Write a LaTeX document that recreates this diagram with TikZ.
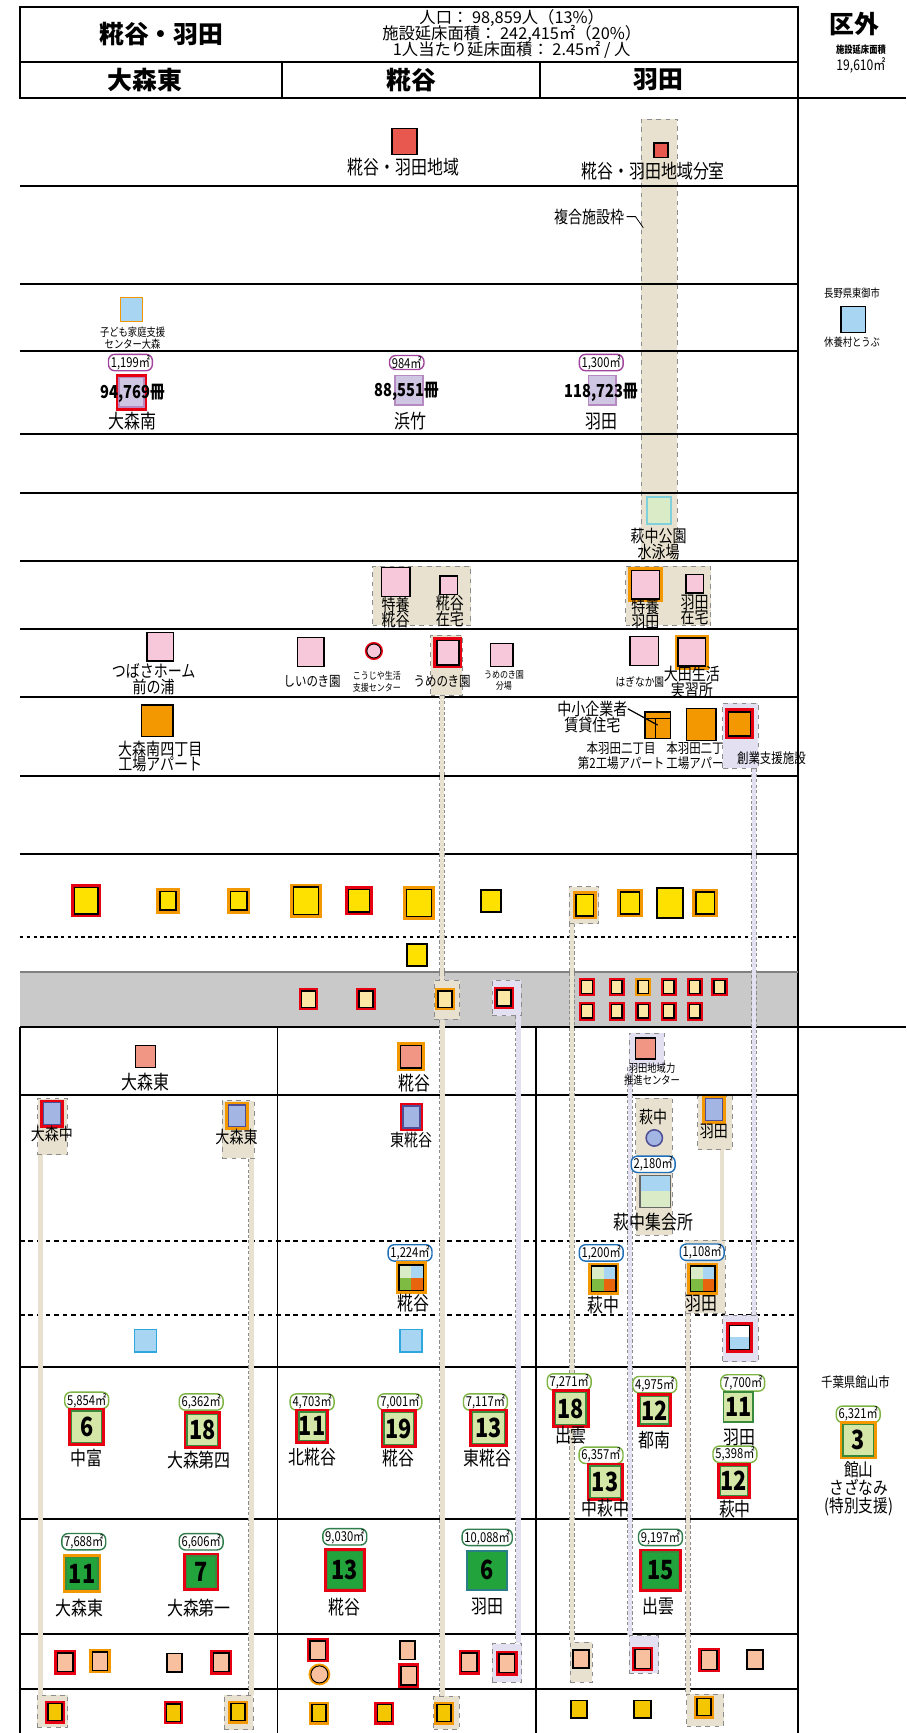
\documentclass[tikz,border=0pt]{standalone}
\usepackage{fontspec}
\setmainfont{Noto Sans CJK JP}[FakeStretch=0.82]
\newfontfamily\headfam{Noto Sans CJK JP}
\usepackage{xcolor}
\usetikzlibrary{positioning}

\definecolor{ringred}{HTML}{E60012}
\definecolor{ringor}{HTML}{F39800}
\definecolor{hqred}{HTML}{E9584E}
\definecolor{ctrsal}{HTML}{F19584}
\definecolor{salmon}{HTML}{F9C0A0}
\definecolor{libpur}{HTML}{CFC6E3}
\definecolor{libedge}{HTML}{B68AC0}
\definecolor{tagpur}{HTML}{A0449E}
\definecolor{careink}{HTML}{F7C8D9}
\definecolor{factor}{HTML}{F39800}
\definecolor{pubyel}{HTML}{FFE100}
\definecolor{paleyel}{HTML}{FCE7A5}
\definecolor{gold}{HTML}{F4C600}
\definecolor{skyfill}{HTML}{A7D5F2}
\definecolor{skyedge}{HTML}{2EA7E0}
\definecolor{youthblue}{HTML}{A3B5E2}
\definecolor{youthedge}{HTML}{4E4E96}
\definecolor{poolgrn}{HTML}{DAEBC8}
\definecolor{pooledge}{HTML}{7FD0DA}
\definecolor{mixgreen}{HTML}{7DBB42}
\definecolor{mixorange}{HTML}{E8650E}
\definecolor{schlt}{HTML}{D5E7A6}
\definecolor{schdk}{HTML}{22A33B}
\definecolor{schedge}{HTML}{3A8A3E}
\definecolor{jredge}{HTML}{2A7F86}
\definecolor{tagelem}{HTML}{7DB444}
\definecolor{tagjr}{HTML}{2F7D4B}
\definecolor{tagblue}{HTML}{1E6FB7}
\definecolor{tanfill}{HTML}{E8E1CF}
\definecolor{lavfill}{HTML}{E3E1F1}
\definecolor{bandgray}{HTML}{C9C9C9}

\pgfdeclarelayer{back}
\pgfdeclarelayer{links}
\pgfsetlayers{back,links,main}

\newcommand\hdfont{\headfam\bfseries\fontsize{16}{18}\selectfont}
\newcommand\statfont{\headfam\fontsize{10.5}{10.3}\selectfont}
\newcommand\bigfont{\fontsize{12.5}{11.5}\selectfont}
\newcommand\labfont{\fontsize{11}{10}\selectfont}
\newcommand\midfont{\fontsize{9}{9.5}\selectfont}
\newcommand\smfont{\fontsize{7.3}{8}\selectfont}
\newcommand\tagfont{\fontsize{8.8}{8.8}\selectfont}
\newcommand\numfont{\bfseries\fontsize{17}{17}\selectfont}
\newcommand\volfont{\bfseries\fontsize{11.5}{11.5}\selectfont}

\tikzset{
  fac/.style={draw=black, line width=0.9pt, inner sep=0pt},
  sq/.style 2 args={minimum width=#1pt, minimum height=#2pt},
  redring/.style={preaction={draw=ringred, line width=#1}},
  redring/.default=4.4pt,
  orring/.style={preaction={draw=ringor, line width=#1}},
  orring/.default=4.4pt,
  ring/.style 2 args={preaction={draw=#1, line width=#2}},
  lbl/.style={font=\labfont, align=center, inner sep=0pt},
  small/.style={font=\smfont, align=center, inner sep=0pt},
  tag/.style={draw=#1, fill=white, line width=0.9pt, rounded corners=4pt,
    inner xsep=1.5pt, inner ysep=0.6pt, font=\tagfont},
  tanbox/.style={draw=black!45, dashed, fill=tanfill, line width=0.5pt, inner sep=0pt},
  lavbox/.style={draw=black!45, dashed, fill=lavfill, line width=0.5pt, inner sep=0pt},
  tanlink/.style={preaction={draw=black!45, line width=3.8pt, dash pattern=on 2pt off 1.5pt},
    draw=tanfill, line width=2.8pt},
  lavlink/.style={preaction={draw=black!45, line width=3.8pt, dash pattern=on 2pt off 1.5pt},
    draw=lavfill, line width=2.8pt},
  school/.style={fac, fill=schlt, draw=schedge, line width=0.8pt, font=\numfont},
  grid/.style={line width=1.3pt},
  mix/.style={path picture={
    \fill[poolgrn] (path picture bounding box.north west) rectangle (path picture bounding box.center);
    \fill[skyfill] (path picture bounding box.north east) rectangle (path picture bounding box.center);
    \fill[mixgreen] (path picture bounding box.south west) rectangle (path picture bounding box.center);
    \fill[mixorange] (path picture bounding box.south east) rectangle (path picture bounding box.center);}},
  halfsky/.style={path picture={
    \fill[skyfill] (path picture bounding box.north west) rectangle (path picture bounding box.east);
    \fill[poolgrn] (path picture bounding box.west) rectangle (path picture bounding box.south east);}},
  halfwhite/.style={path picture={
    \fill[white] (path picture bounding box.north west) rectangle (path picture bounding box.east);
    \fill[skyfill] (path picture bounding box.west) rectangle (path picture bounding box.south east);}},
  split/.style={path picture={
    \draw[line width=0.7pt] ([yshift=-4pt]path picture bounding box.north west) -- ([yshift=-4pt]path picture bounding box.north east);
    \draw[line width=0.7pt] ([xshift=-1.5pt,yshift=-4pt]path picture bounding box.north) -- ([xshift=-1.5pt]path picture bounding box.south);}},
}

\begin{document}
\lineskiplimit=-20pt
\lineskip=0pt
\begin{tikzpicture}[x=0.025cm, y=-0.025cm]
\useasboundingbox (0,0) rectangle (820,1568);

\begin{pgfonlayer}{back}
% Grid
\fill[bandgray] (18,879) rectangle (722,929);
\node[tanbox, sq={23.4}{284}] (cplx) at (596.5,307.5) {};
\draw[grid] (18,6) rectangle (722,89);
\draw[grid] (18,56) -- (722,56);
\draw[grid] (255,56) -- (255,89);
\draw[grid] (489,56) -- (489,89);
\draw[grid] (722,6) -- (722,1568);
\draw[grid] (722,89) -- (820,89);
\foreach \yy in {168,257,318,393,446,508,569,631,702,773}
  \draw[grid] (18,\yy) -- (722,\yy);
\draw[grid, dash pattern=on 2.2pt off 2.2pt] (18,848) -- (722,848);
\draw[grid, black!50] (18,879) -- (722,879);
\draw[line width=1pt] (18,929) -- (820,929);
\draw[line width=0.8pt] (18,929) -- (18,1568);
\draw[line width=0.8pt] (251,929) -- (251,1568);
\draw[line width=0.8pt] (485,929) -- (485,1568);
\foreach \yy in {991,1237,1374,1478,1528}
  \draw[grid] (18,\yy) -- (722,\yy);
\foreach \yy in {1123,1190}
  \draw[line width=1pt, dash pattern=on 3pt off 2.5pt] (18,\yy) -- (722,\yy);
\end{pgfonlayer}

% Header
\node[font=\hdfont] (areattl) at (146,31) {糀谷・羽田};
\node[font=\statfont, align=center, inner sep=0pt] (areastat) at (463,31)
  {人口： 98,859人（13\%）\\施設延床面積： 242,415㎡（20\%）\\1人当たり延床面積： 2.45㎡ / 人};
\node[font=\hdfont] (colomn) at (131,72) {大森東};
\node[font=\hdfont] (colkoj) at (372,72) {糀谷};
\node[font=\hdfont] (colhnd) at (596,72) {羽田};
\node[font=\hdfont] (outttl) at (773,22) {区外};
\node[font=\bfseries\fontsize{6.5}{7}\selectfont, inner sep=0pt] (outsub) at (779,45) {施設延床面積};
\node[font=\fontsize{9.5}{10}\selectfont, inner sep=0pt] (outarea) at (779,59) {19,610㎡};

% Row A
\node[fac, sq={16.3}{17}, fill=hqred] (hq) at (366,128) {};
\node[lbl, font=\bigfont] (hqlbl) at (365,151) {糀谷・羽田地域};
\node[fac, sq={8.9}{9.6}, fill=hqred] (hqsub) at (598,136) {};
\node[lbl, font=\bigfont] (hqsublbl) at (591,155) {糀谷・羽田地域分室};
\node[lbl] (cplxtag) at (533,196) {複合施設枠};
\draw[line width=0.5pt] (cplxtag.east) ++(2,0) -- ++(8,0) -- ++(7,10);

% Row C
\node[fac, sq={14.2}{15.6}, fill=skyfill, draw=ringor] (kidsup) at (119,280) {};
\node[small] (kidsuplbl) at (120,306) {子ども家庭支援\\センター大森};
\node[small] (nagano) at (771,265) {長野県東御市};
\node[fac, sq={15.6}{17}, fill=skyfill] (tobu) at (772,289) {};
\node[small] (tobulbl) at (771,310) {休養村とうぶ};

% Row D
\node[tag=tagpur] (omslibtag) at (118,328) {1,199㎡};
\node[fac, sq={16}{19}, fill=libpur, draw=libedge, redring] (omslib) at (119,355) {};
\node[font=\volfont, inner sep=0pt] (omslibvol) at (120,356) {94,769冊};
\node[lbl, font=\bigfont] (omsliblbl) at (120,381) {大森南};
\node[tag=tagpur] (hmtlibtag) at (368,328) {984㎡};
\node[fac, sq={17.7}{19}, fill=libpur, draw=libedge, line width=1.1pt] (hmtlib) at (370,353) {};
\node[font=\volfont, inner sep=0pt] (hmtlibvol) at (368,354) {88,551冊};
\node[lbl, font=\bigfont] (hmtliblbl) at (371,381) {浜竹};
\node[tag=tagpur] (hndlibtag) at (544,328) {1,300㎡};
\node[fac, sq={17.7}{19}, fill=libpur, draw=libedge, line width=1.1pt] (hndlib) at (545,353) {};
\node[font=\volfont, inner sep=0pt] (hndlibvol) at (544,355) {118,723冊};
\node[lbl, font=\bigfont] (hndliblbl) at (544,381) {羽田};

% Row F
\node[fac, sq={15.6}{17}, fill=poolgrn, draw=pooledge, line width=1.3pt] (pool) at (596,462) {};
\node[lbl] (poollbl) at (596,492) {萩中公園\\水泳場};

% Row G
\node[tanbox, sq={63}{38}] (kojcare) at (381.5,539) {};
\node[fac, sq={18.4}{18.8}, fill=careink] (kojtk) at (358,526.5) {};
\node[lbl] (kojtklbl) at (358,554) {特養\\糀谷};
\node[fac, sq={11.3}{12}, fill=careink] (kojhm) at (406,529.5) {};
\node[lbl] (kojhmlbl) at (407,553) {糀谷\\在宅};
\node[tanbox, sq={54.6}{38}] (hndcare) at (604.5,539) {};
\node[fac, sq={17.7}{18.4}, fill=careink, orring] (hndtk) at (584,529) {};
\node[lbl] (hndtklbl) at (584,556) {特養\\羽田};
\node[fac, sq={11.3}{12}, fill=careink] (hndhm) at (628.5,528) {};
\node[lbl] (hndhmlbl) at (628.5,552) {羽田\\在宅};

% Row H
\node[fac, sq={17}{18.4}, fill=careink] (tsb) at (145,585) {};
\node[lbl] (tsblbl) at (139,614.5) {つばさホーム\\前の浦};
\node[fac, sq={17}{18.8}, fill=careink] (shi) at (281.3,590) {};
\node[lbl, font=\midfont] (shilbl) at (282.4,617) {しいのき園};
\node[circle, draw=black, line width=0.6pt, fill=careink, minimum size=9pt, inner sep=0pt, redring=2.6pt] (kjy) at (338.3,589) {};
\node[small, font=\fontsize{6.3}{7.3}\selectfont] (kjylbl) at (341,617) {こうじや生活\\支援センター};
\node[tanbox, sq={20.4}{38.5}] (umebox) at (404,602) {};
\node[fac, sq={14.2}{15.6}, fill=careink, redring] (ume) at (405.2,590.6) {};
\node[lbl, font=\midfont] (umelbl) at (400,617) {うめのき園};
\node[fac, sq={14.2}{14.9}, fill=careink] (umeb) at (454,592.7) {};
\node[small, font=\fontsize{6.3}{7.3}\selectfont] (umeblbl) at (456,616) {うめのき園\\分場};
\node[fac, sq={18.4}{18.6}, fill=careink] (hgi) at (583,589) {};
\node[small, font=\fontsize{7.6}{8}\selectfont] (hgilbl) at (579,617) {はぎなか園};
\node[fac, sq={17.7}{18.1}, fill=careink, orring] (otl) at (626,590) {};
\node[lbl] (otllbl) at (626,617) {大田生活\\実習所};

% Row I
\node[fac, sq={20.4}{20.3}, fill=factor] (omsf) at (142.2,652.2) {};
\node[lbl] (omsflbl) at (145,684.5) {大森南四丁目\\工場アパート};
\node[lbl] (smelbl) at (536,648.7) {中小企業者\\賃貸住宅};
\node[fac, sq={16.3}{17}, fill=factor, split] (sme) at (595,656) {};
\draw[line width=0.8pt] ([yshift=-5pt]smelbl.north east) -- (sme.center);
\node[fac, sq={19}{20.6}, fill=factor] (mhf) at (634.5,655.5) {};
\node[lbl, font=\midfont] (mhf2lbl) at (562,684) {本羽田二丁目\\第2工場アパート};
\node[lbl, font=\midfont] (mhflbl) at (634,684) {本羽田二丁目\\工場アパート};
\node[lavbox, sq={22.7}{41.8}] (sougyo) at (670,665.5) {};
\node[fac, sq={14.2}{15.6}, fill=factor, redring] (sgy) at (669,655) {};
\node[lbl, font=\midfont] (sgylbl) at (698,686) {創業支援施設};

% Row K
\node[fac, sq={15}{17}, fill=pubyel, redring] (pub1) at (78,815) {};
\node[fac, sq={10.5}{12}, fill=pubyel, orring] (pub2) at (152,815) {};
\node[fac, sq={10.5}{12}, fill=pubyel, orring] (pub3) at (216,815) {};
\node[fac, sq={16}{17.5}, fill=pubyel, orring] (pub4) at (277,815) {};
\node[fac, sq={13.5}{14.5}, fill=pubyel, redring] (pub5) at (325,815) {};
\node[fac, sq={16}{17.5}, fill=pubyel, orring] (pub6) at (379,817) {};
\node[fac, sq={13}{14}, fill=pubyel, line width=1.3pt] (pub7) at (444,815) {};
\node[tanbox, sq={19}{24}] (pubtan) at (528.5,819) {};
\node[fac, sq={11}{14}, fill=pubyel, orring] (pub8) at (529,819) {};
\node[fac, sq={12}{14}, fill=pubyel, orring] (pub9) at (570,817) {};
\node[fac, sq={17}{19}, fill=pubyel, line width=1.3pt] (pub10) at (606,817) {};
\node[fac, sq={12}{14}, fill=pubyel, orring] (pub11) at (638,817) {};
\node[fac, sq={13}{14.5}, fill=pubyel, line width=1.3pt] (pub12) at (377.5,864) {};

% Gray band
\node[fac, sq={9}{10.5}, fill=paleyel, redring=3.6pt] (gb1) at (279,904) {};
\node[fac, sq={9}{10.5}, fill=paleyel, redring=3.6pt] (gb2) at (331,904) {};
\node[tanbox, sq={16.3}{25}] (bandume) at (404.5,904.5) {};
\node[fac, sq={9}{10.5}, fill=paleyel, orring=3.6pt] (gb3) at (402.6,904) {};
\node[lavbox, sq={18.4}{22.7}] (bandlav) at (458.5,903) {};
\node[fac, sq={9}{10.5}, fill=paleyel, redring=3.6pt] (gb4) at (456,903) {};
\foreach \xx/\rc [count=\i] in {531/ringred,558/ringred,582/ringor,605/ringred,628.5/ringred,651/ringred}
  \node[fac, sq={7}{8.5}, fill=paleyel, ring={\rc}{3.4pt}] (gt\i) at (\xx,893) {};
\foreach \xx [count=\i] in {531,558,582,605,628.5}
  \node[fac, sq={7}{8.5}, fill=paleyel, redring=3.4pt] (gu\i) at (\xx,915) {};

% Row M
\node[fac, sq={12.8}{14.2}, fill=ctrsal] (omectr) at (131.8,956) {};
\node[lbl, font=\bigfont] (omectrlbl) at (131.8,979) {大森東};
\node[fac, sq={13.5}{14.5}, fill=ctrsal, orring] (kojctr) at (372,956) {};
\node[lbl, font=\bigfont] (kojctrlbl) at (375,980) {糀谷};
\node[lavbox, sq={22.7}{22}] (hndctr) at (585,950) {};
\node[fac, sq={12.8}{13.5}, fill=ctrsal] (hndc) at (584,948.7) {};
\node[small] (hndclbl) at (590,972) {羽田地域力\\推進センター};

% Row N
\node[tanbox, sq={19}{36}] (omnbox) at (47.5,1019.5) {};
\node[fac, sq={11}{14}, fill=youthblue, draw=youthedge, redring=4pt] (omn) at (47,1007.5) {};
\node[lbl] (omnlbl) at (47,1026) {大森中};
\node[tanbox, sq={20.5}{37}] (ohebox) at (215.5,1022) {};
\node[fac, sq={11}{14}, fill=youthblue, draw=youthedge, orring=4pt] (ohe) at (214.4,1009.6) {};
\node[lbl] (ohelbl) at (214,1028.6) {大森東};
\node[fac, sq={11}{14}, fill=youthblue, draw=youthedge, redring=4pt] (hkj) at (372.3,1010.6) {};
\node[lbl] (hkjlbl) at (372,1031.7) {東糀谷};
\node[tanbox, sq={23.4}{88}] (hgnbox) at (591.5,1055.5) {};
\node[lbl] (hgnlbl) at (591,1010.6) {萩中};
\node[circle, draw=youthedge, line width=1pt, fill=youthblue, minimum size=10.5pt, inner sep=0pt] (hgn) at (592,1029.6) {};
\node[tag=tagblue] (hgnhalltag) at (591,1053.4) {2,180㎡};
\node[fac, sq={19.5}{20.5}, draw=black!60, halfsky] (hgnhall) at (592.7,1078) {};
\node[lbl, font=\bigfont] (hgnhalllbl) at (591,1105.5) {萩中集会所};
\node[tanbox, sq={22.3}{34.5}] (hndyth) at (647,1016) {};
\node[fac, sq={11}{14}, fill=youthblue, draw=youthedge, orring=4pt] (hny) at (646,1004) {};
\node[lbl] (hnylbl) at (646,1024) {羽田};

% Row O
\node[tanbox, sq={25.9}{46.8}] (hndyhbox) at (638,1155) {};
\node[tag=tagblue] (kojyhtag) at (371,1133.6) {1,224㎡};
\node[fac, sq={15.6}{16.5}, mix, orring] (kojyh) at (372,1156) {};
\node[lbl, font=\bigfont] (kojyhlbl) at (374,1179) {糀谷};
\node[tag=tagblue] (hgnyhtag) at (544,1133.6) {1,200㎡};
\node[fac, sq={15.6}{16.5}, mix, orring] (hgnyh) at (546.4,1157) {};
\node[lbl, font=\bigfont] (hgnyhlbl) at (546.4,1181) {萩中};
\node[tag=tagblue] (hndyhtag) at (635.3,1133) {1,108㎡};
\node[fac, sq={15.6}{16.5}, mix, orring] (hndyh) at (635.8,1157) {};
\node[lbl, font=\bigfont] (hndyhlbl) at (635,1179) {羽田};

% Row P
\node[fac, sq={14}{14.5}, fill=skyfill, draw=skyedge] (omeplay) at (131.8,1213) {};
\node[fac, sq={14}{14.5}, fill=skyfill, draw=skyedge] (kojplay) at (371.8,1213) {};
\node[lavbox, sq={22.7}{30}] (hndpbox) at (670,1211) {};
\node[fac, sq={12.8}{15.6}, halfwhite, redring] (hndplay) at (669,1210) {};

% Row Q
\node[tag=tagelem] (nktag) at (78.4,1267) {5,854㎡};
\node[school, redring, sq={19.5}{20.5}] (nk) at (78.4,1291) {6};
\node[lbl, font=\bigfont] (nklbl) at (78.4,1319.5) {中富};
\node[tag=tagelem] (o4tag) at (182,1268.5) {6,362㎡};
\node[school, redring, sq={19.5}{20}] (o4) at (183,1294) {18};
\node[lbl, font=\bigfont] (o4lbl) at (180,1321.3) {大森第四};
\node[tag=tagelem] (nkjtag) at (282.4,1268.5) {4,703㎡};
\node[school, redring, sq={17}{18.5}] (nkj) at (282.4,1290.5) {11};
\node[lbl, font=\bigfont] (nkjlbl) at (282.4,1318.3) {北糀谷};
\node[tag=tagelem] (kjetag) at (361.8,1268.5) {7,001㎡};
\node[school, redring, sq={19}{20.5}] (kje) at (360.8,1292.6) {19};
\node[lbl, font=\bigfont] (kjelbl) at (360.8,1319.7) {糀谷};
\node[tag=tagelem] (hkjetag) at (439.2,1268.5) {7,117㎡};
\node[school, redring, sq={20.5}{20}] (hkje) at (441.8,1291.7) {13};
\node[lbl, font=\bigfont] (hkjelbl) at (440.8,1319.7) {東糀谷};
\node[tag=tagelem] (izetag) at (515,1250.4) {7,271㎡};
\node[school, redring, sq={19.5}{20.5}] (ize) at (516.6,1274.5) {18};
\node[lbl, font=\bigfont] (izelbl) at (516.6,1299) {出雲};
\node[tag=tagelem] (tnmtag) at (592.4,1252.8) {4,975㎡};
\node[school, redring, sq={18}{17.7}] (tnm) at (592.4,1276) {12};
\node[lbl, font=\bigfont] (tnmlbl) at (592.4,1303) {都南};
\node[tag=tagelem] (hnetag) at (672,1251.3) {7,700㎡};
\node[school, line width=1.2pt, sq={19}{18.8}] (hne) at (668,1273) {11};
\node[lbl, font=\bigfont] (hnelbl) at (669,1300.6) {羽田};
\node[tag=tagelem] (nhgtag) at (543.8,1316.7) {6,357㎡};
\node[school, redring, sq={19.5}{20.5}] (nhg) at (547.5,1340.8) {13};
\node[lbl, font=\bigfont] (nhglbl) at (547.5,1364.9) {中萩中};
\node[tag=tagelem] (hgetag) at (665,1315.8) {5,398㎡};
\node[school, redring, sq={17.7}{18.4}] (hge) at (664,1340) {12};
\node[lbl, font=\bigfont] (hgelbl) at (665,1365) {萩中};
\node[lbl, font=\midfont] (chiba) at (774,1251) {千葉県館山市};
\node[tag=tagelem] (tatetag) at (776.5,1279.6) {6,321㎡};
\node[school, orring, sq={19.5}{20.5}] (tate) at (776.5,1303) {3};
\node[lbl, font=\fontsize{11.5}{11.8}\selectfont] (tatelbl) at (777,1347) {館山\\さざなみ\\(特別支援)};

% Row R
\node[tag=tagjr] (omejtag) at (75.8,1394.9) {7,688㎡};
\node[school, fill=schdk, orring, sq={20.5}{20.5}] (omej) at (74.2,1423.8) {11};
\node[lbl, font=\bigfont] (omejlbl) at (72,1455) {大森東};
\node[tag=tagjr] (o1tag) at (182,1395) {6,606㎡};
\node[school, fill=schdk, redring, sq={19}{20}] (o1) at (182,1422) {7};
\node[lbl, font=\bigfont] (o1lbl) at (180,1455) {大森第一};
\node[tag=tagjr] (kojjtag) at (312,1390.5) {9,030㎡};
\node[school, fill=schdk, redring, sq={22.7}{24}] (kojj) at (312,1420.7) {13};
\node[lbl, font=\bigfont] (kojjlbl) at (312,1454) {糀谷};
\node[tag=tagjr] (hndjtag) at (440.8,1391) {10,088㎡};
\node[school, fill=schdk, draw=jredge, line width=1.3pt, sq={25.5}{25}] (hndj) at (440.8,1420.7) {6};
\node[lbl, font=\bigfont] (hndjlbl) at (440.8,1454) {羽田};
\node[tag=tagjr] (izejtag) at (597.6,1391) {9,197㎡};
\node[school, fill=schdk, redring, sq={22.7}{23.4}] (izej) at (597.6,1420.7) {15};
\node[lbl, font=\bigfont] (izejlbl) at (596,1453) {出雲};

% Row S
\node[fac, sq={10}{12}, fill=salmon, redring=3.8pt] (soc1) at (59,1504) {};
\node[fac, sq={10}{12}, fill=salmon, orring=3.8pt] (soc2) at (90.5,1503) {};
\node[fac, sq={10}{12}, fill=salmon, line width=1.2pt] (soc3) at (158,1504.5) {};
\node[fac, sq={10}{12}, fill=salmon, redring=3.8pt] (soc4) at (200,1504) {};
\node[fac, sq={10}{12}, fill=salmon, redring=3.8pt] (soc5) at (287.6,1493) {};
\node[circle, fill=salmon, draw=black, line width=0.6pt, minimum size=11pt, inner sep=0pt, orring=3pt] (soc6) at (289,1515) {};
\node[fac, sq={10}{12}, fill=salmon, line width=1.2pt] (soc7) at (368.6,1493) {};
\node[fac, sq={10}{12}, fill=salmon, redring=3.8pt] (soc8) at (369.7,1516) {};
\node[fac, sq={10}{12}, fill=salmon, redring=3.8pt] (soc9) at (424.6,1504) {};
\node[lavbox, sq={18.8}{24.8}] (soclav) at (458.8,1504.5) {};
\node[fac, sq={10}{12}, fill=salmon, redring=3.8pt] (soc10) at (458.6,1505) {};
\node[tanbox, sq={14.2}{25.5}] (soctan) at (526,1504) {};
\node[fac, sq={10}{12}, fill=salmon, line width=1.2pt] (soc11) at (525.5,1501) {};
\node[lavbox, sq={19.1}{24.1}] (hndsoc) at (582.5,1497) {};
\node[fac, sq={10}{12}, fill=salmon, redring=3.8pt] (soc12) at (581.4,1501) {};
\node[fac, sq={10}{12}, fill=salmon, redring=3.8pt] (soc13) at (641.6,1502) {};
\node[fac, sq={10}{12}, fill=salmon, line width=1.2pt] (soc14) at (683,1501.5) {};

% Row T
\node[tanbox, sq={19.6}{20.6}] (omnft) at (47.6,1548) {};
\node[fac, sq={9}{11}, fill=gold, redring=3.8pt] (ft1) at (49.7,1549) {};
\node[fac, sq={9}{11}, fill=gold, redring=3.8pt] (ft2) at (157,1549.6) {};
\node[tanbox, sq={18.4}{22}] (oheft) at (216,1549.5) {};
\node[fac, sq={9}{11}, fill=gold, orring=3.8pt] (ft3) at (215.4,1549) {};
\node[fac, sq={9}{11}, fill=gold, orring=3.8pt] (ft4) at (288.6,1550) {};
\node[fac, sq={9}{11}, fill=gold, redring=3.8pt] (ft5) at (347.7,1550) {};
\node[tanbox, sq={16.7}{21.3}] (footume) at (404,1549.7) {};
\node[fac, sq={9}{11}, fill=gold, orring=3.8pt] (ft6) at (401.6,1550) {};
\node[fac, sq={10.5}{11.5}, fill=gold, line width=1.2pt] (ft7) at (524,1546.7) {};
\node[fac, sq={10.5}{11.5}, fill=gold, line width=1.2pt] (ft8) at (581.4,1546.7) {};
\node[tanbox, sq={23.8}{20.6}] (hndft) at (638,1547.5) {};
\node[fac, sq={9}{11}, fill=gold, orring=3.8pt] (ft9) at (636.9,1544.6) {};

\begin{pgfonlayer}{links}
\draw[tanlink] ([xshift=-3pt]umebox.south) -- ([xshift=-3pt]umebox.south |- bandume.north);
\draw[tanlink] ([xshift=-3pt]bandume.south) -- ([xshift=-3pt]bandume.south |- footume.north);
\draw[lavlink] ([xshift=-2pt]bandlav.south east) -- ([xshift=-2pt]bandlav.south east |- soclav.north);
\draw[tanlink] ([xshift=2pt]pubtan.south west) -- ([xshift=2pt]pubtan.south west |- soctan.north);
\draw[lavlink] ([xshift=1pt]hndctr.south west) -- ([xshift=1pt]hndctr.south west |- hndsoc.north);
\draw[tanlink] ([xshift=2pt]hndyhbox.south west) -- ([xshift=2pt]hndyhbox.south west |- hndft.north);
\draw[draw=tanfill, line width=2.8pt] ([xshift=-7pt]hndyth.south east) -- ([xshift=-7pt]hndyth.south east |- hndyhbox.north);
\draw[lavlink] ([xshift=-3pt]sougyo.south east) -- ([xshift=-3pt]sougyo.south east |- hndpbox.north);
\draw[tanlink] ([xshift=2pt]omnbox.south west) -- ([xshift=2pt]omnbox.south west |- omnft.north);
\draw[tanlink] ([xshift=-2pt]ohebox.south east) -- ([xshift=-2pt]ohebox.south east |- oheft.north);
\end{pgfonlayer}
\end{tikzpicture}
\end{document}
